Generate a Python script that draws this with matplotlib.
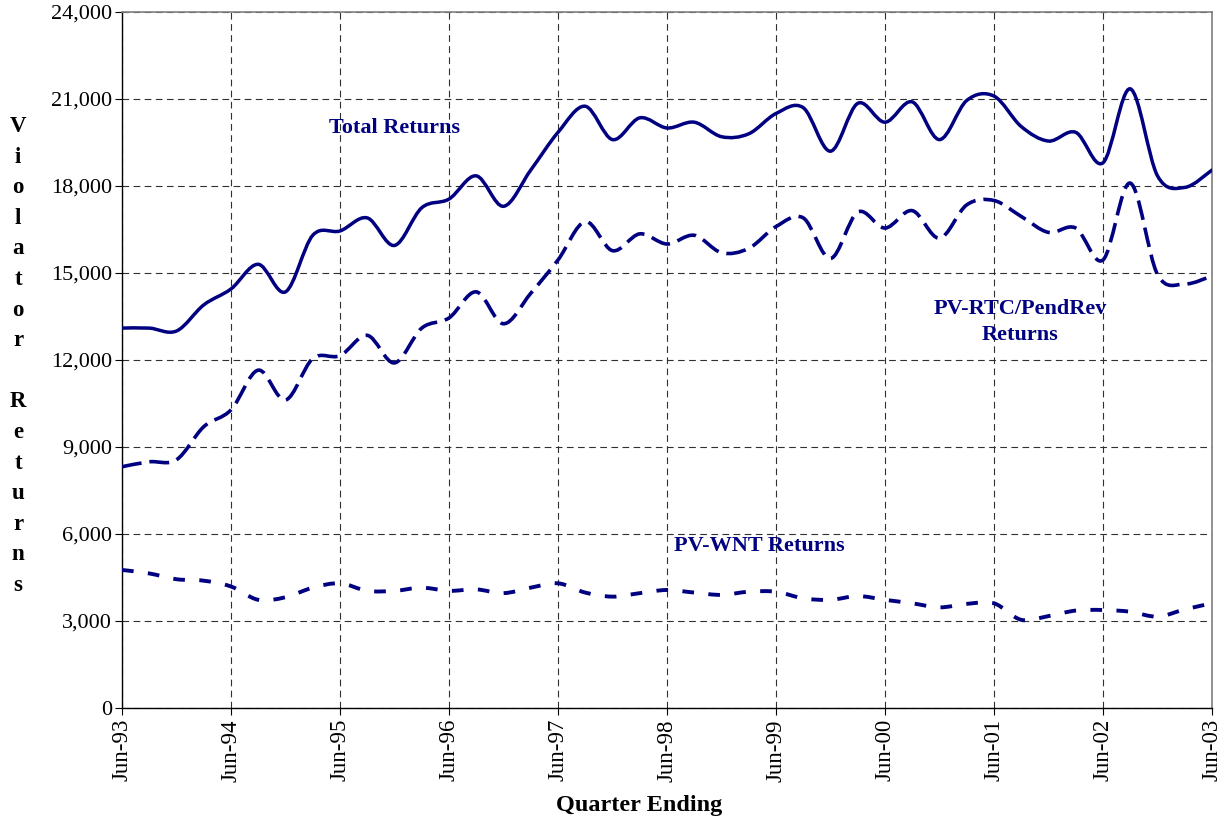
import numpy as np
import matplotlib
matplotlib.use("Agg")
import matplotlib.pyplot as plt
from matplotlib.path import Path
from matplotlib.patches import PathPatch
from matplotlib.ticker import FuncFormatter

# quarterly data, Jun-93 .. Jun-03 (41 quarters)
quarters = np.arange(41)
year_labels = ["Jun-93", "Jun-94", "Jun-95", "Jun-96", "Jun-97", "Jun-98",
               "Jun-99", "Jun-00", "Jun-01", "Jun-02", "Jun-03"]

total_returns = [13100, 13100, 13000, 13900, 14450, 15300, 14350, 16300, 16450, 16900,
                 15950, 17250, 17550, 18350, 17300, 18550, 19850, 20750, 19600, 20350,
                 20000, 20200, 19700, 19800, 20500, 20700, 19200, 20850, 20200, 20900,
                 19600, 20950, 21100, 20050, 19550, 19850, 18800, 21350, 18350, 17950,
                 18550]
rtc_returns = [8320, 8490, 8560, 9700, 10280, 11650, 10620, 12050, 12150, 12850,
               11900, 13100, 13450, 14350, 13250, 14300, 15450, 16770, 15770, 16350,
               16000, 16300, 15700, 15850, 16600, 16900, 15500, 17100, 16550, 17150,
               16200, 17350, 17500, 16950, 16400, 16550, 15450, 18100, 14950, 14620,
               14900]
wnt_returns = [4760, 4640, 4440, 4390, 4190, 3730, 3820, 4150, 4300, 4040,
               4040, 4150, 4040, 4090, 3960, 4150, 4300, 3980, 3840, 3960,
               4070, 3980, 3900, 4010, 4010, 3780, 3730, 3860, 3730, 3610,
               3470, 3590, 3610, 3040, 3170, 3360, 3380, 3320, 3150, 3400,
               3610]

NAVY = "#000080"
plt.rcParams['font.family'] = ['Liberation Serif', 'DejaVu Serif']


def smooth_path(x, y):
    # Excel-style smoothed line: cubic bezier through each point
    x = np.asarray(x, float)
    y = np.asarray(y, float)
    xp = np.concatenate([[x[0]], x, [x[-1]]])
    yp = np.concatenate([[y[0]], y, [y[-1]]])
    verts = [(x[0], y[0])]
    codes = [Path.MOVETO]
    for i in range(len(x) - 1):
        c1 = (x[i] + (xp[i + 2] - xp[i]) / 6, y[i] + (yp[i + 2] - yp[i]) / 6)
        c2 = (x[i + 1] - (xp[i + 3] - xp[i + 1]) / 6, y[i + 1] - (yp[i + 3] - yp[i + 1]) / 6)
        verts += [c1, c2, (x[i + 1], y[i + 1])]
        codes += [Path.CURVE4] * 3
    return Path(verts, codes)


fig = plt.figure(figsize=(12.28, 8.26), dpi=100)
ax = fig.add_axes([122 / 1228, 1 - 708 / 826, 1090 / 1228, 696 / 826])

ax.add_patch(PathPatch(smooth_path(quarters, total_returns), fill=False,
                       edgecolor=NAVY, lw=2.5, capstyle='round', zorder=3))
ax.add_patch(PathPatch(smooth_path(quarters, rtc_returns), fill=False,
                       edgecolor=NAVY, lw=2.6, linestyle=(0, (5.5, 2.2)), zorder=3))
ax.add_patch(PathPatch(smooth_path(quarters, wnt_returns), fill=False,
                       edgecolor=NAVY, lw=2.8, linestyle=(0, (3.0, 3.7)), zorder=3))

ax.set_xlim(0, 40)
ax.set_ylim(0, 24000)
ax.set_xticks(quarters[::4])
ax.set_xticklabels(year_labels, rotation=90, fontsize=16.5)
ax.set_yticks(np.arange(0, 24001, 3000))
ax.yaxis.set_major_formatter(FuncFormatter(lambda v, p: f"{int(v):,}"))
ax.tick_params(axis='y', labelsize=16, direction='out', length=5, pad=2)
ax.tick_params(axis='x', direction='out', length=5, pad=3)

ax.grid(True, color='#303030', linestyle=(0, (6, 4)), linewidth=0.8)
for side in ['top', 'right']:
    ax.spines[side].set_color('#808080')
    ax.spines[side].set_linewidth(1.2)
for side in ['left', 'bottom']:
    ax.spines[side].set_color('black')
    ax.spines[side].set_linewidth(1.0)

ax.set_xlabel("Quarter Ending", fontsize=17.5, fontweight='bold')
ax.xaxis.set_label_coords((639 - 122) / 1090, (708 - 795) / 696)

fig.text(18 / 1228, 1 - 356 / 826, "\n".join("Violator Returns"),
         ha='center', va='center', fontsize=16.5, fontweight='bold', linespacing=1.6)

ax.text(10.0, 20000, "Total Returns", color=NAVY, fontsize=16, fontweight='bold',
        ha='center', va='center')
ax.text(32.95, 13310, "PV-RTC/PendRev\nReturns", color=NAVY, fontsize=16,
        fontweight='bold', ha='center', va='center', linespacing=1.35)
ax.text(23.4, 5585, "PV-WNT Returns", color=NAVY, fontsize=16, fontweight='bold',
        ha='center', va='center')

fig.savefig("out.png", dpi=100)
